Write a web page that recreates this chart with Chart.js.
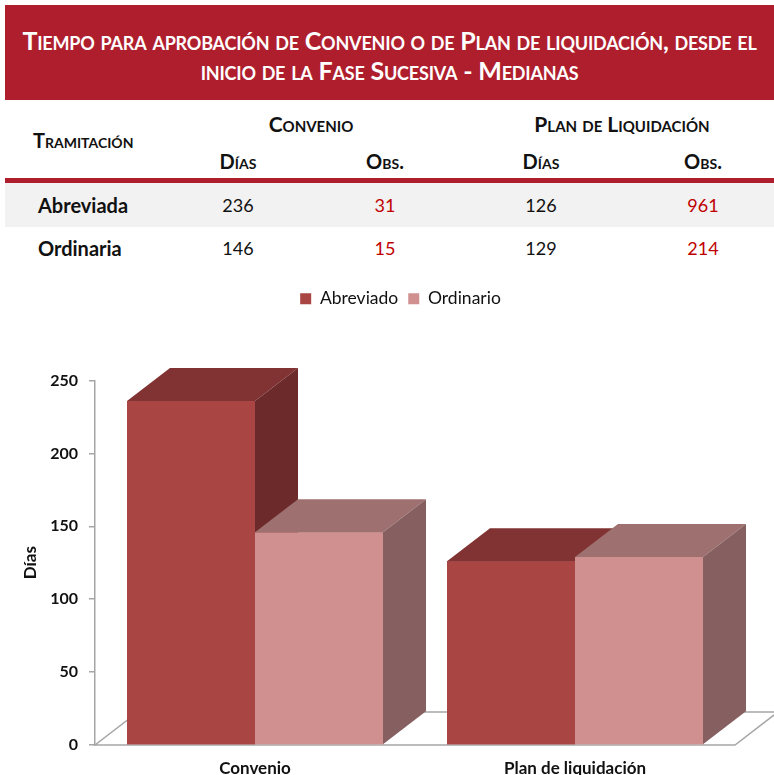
<!DOCTYPE html>
<html lang="es">
<head>
<meta charset="utf-8">
<title>Tiempo para aprobación de Convenio o de Plan de liquidación</title>
<script src="https://cdn.jsdelivr.net/npm/chart.js@4.4.1/dist/chart.umd.min.js"></script>
<style>
  html, body { margin: 0; padding: 0; background: #fff; }
  body { width: 774px; height: 775px; position: relative; overflow: hidden; font-family: Lato, 'Open Sans', sans-serif; color: #111; }
  .banner { position: absolute; left: 5px; top: 5px; width: 769px; height: 95px; background: #af1e2d; }
  .banner h1 { margin: 0; padding-top: 20px; color: #fff; font-size: 25px; letter-spacing: -0.2px; font-weight: bold; font-variant: small-caps; text-align: center; line-height: 30px; }
  .cell { position: absolute; width: 260px; margin-left: -130px; text-align: center; line-height: 26px; margin-top: -13px; white-space: nowrap; }
  .sc { font-variant: small-caps; font-weight: bold; font-size: 21px; }
  .lbl { position: absolute; left: 38px; font-weight: bold; font-size: 20px; line-height: 26px; margin-top: -13px; }
  .num { font-size: 18px; }
  .obs { color: #c00000; }
  .rule { position: absolute; left: 5px; top: 178px; width: 769px; height: 5px; background: #af1e2d; }
  .band { position: absolute; left: 5px; top: 183px; width: 769px; height: 44px; background: #f2f2f2; }
  .chart-box { position: absolute; left: 0; top: 280px; width: 774px; height: 495px; }
</style>
</head>
<body>
<div class="banner"><h1>Tiempo para aprobación de Convenio o de Plan de liquidación, desde el<br>inicio de la Fase Sucesiva - Medianas</h1></div>
<div id="table"></div>
<div class="chart-box"><canvas id="chart" width="774" height="495"></canvas></div>
<script>
// datos de la tabla
const tramitaciones = ['Abreviada', 'Ordinaria'];
const convenioDias = [236, 146];
const convenioObs = [31, 15];
const planDias = [126, 129];
const planObs = [961, 214];

// datos del gráfico
const categorias = ['Convenio', 'Plan de liquidación'];
const serieAbreviado = [236, 126];
const serieOrdinario = [146, 129];
const ticksY = [0, 50, 100, 150, 200, 250];

// profundidad 3D de las barras
const DX = 43, DY = -33;

function cell(html, cls, x, y, extra) {
  return `<div class="cell ${cls}" style="left:${x}px;top:${y}px;${extra || ''}">${html}</div>`;
}

function renderTable() {
  let html = '<div class="rule"></div><div class="band"></div>';
  html += `<div class="lbl sc" style="left:33px;top:140px;font-size:20px">Tramitación</div>`;
  html += cell('Convenio', 'sc', 311, 124);
  html += cell('Plan de Liquidación', 'sc', 622, 124);
  html += cell('Días', 'sc', 238, 161, 'font-size:20px');
  html += cell('Obs.', 'sc', 385, 161, 'font-size:20px');
  html += cell('Días', 'sc', 541, 161, 'font-size:20px');
  html += cell('Obs.', 'sc', 703, 161, 'font-size:20px');
  const rowsY = [205, 248];
  tramitaciones.forEach((t, i) => {
    const y = rowsY[i];
    html += `<div class="lbl" style="top:${y}px">${t}</div>`;
    html += cell(convenioDias[i], 'num', 238, y);
    html += cell(convenioObs[i], 'num obs', 385, y);
    html += cell(planDias[i], 'num', 541, y);
    html += cell(planObs[i], 'num obs', 703, y);
  });
  document.getElementById('table').innerHTML = html;
}

// espacio extra debajo de la leyenda y leyenda centrada sobre x=400
const legendSpacer = {
  id: 'legendSpacer',
  beforeInit(chart) {
    const fit = chart.legend.fit;
    chart.legend.fit = function () {
      fit.bind(chart.legend)();
      this.height += 63;
    };
  },
  afterLayout(chart) {
    chart.legend.left += 33;
    chart.legend.right += 33;
  }
};

function poly(ctx, pts, color) {
  ctx.beginPath();
  ctx.moveTo(pts[0][0], pts[0][1]);
  for (let i = 1; i < pts.length; i++) ctx.lineTo(pts[i][0], pts[i][1]);
  ctx.closePath();
  ctx.fillStyle = color;
  ctx.fill();
}

// suelo y caras 3D
const bars3d = {
  id: 'bars3d',
  beforeDatasetsDraw(chart) {
    const { ctx, chartArea: a } = chart;
    const y0 = chart.scales.y.getPixelForValue(0);
    ctx.save();
    ctx.beginPath();
    ctx.moveTo(a.left, y0);
    ctx.lineTo(a.right, y0);
    ctx.lineTo(a.right + DX, y0 + DY);
    ctx.lineTo(a.left + DX, y0 + DY);
    ctx.closePath();
    ctx.fillStyle = '#ffffff';
    ctx.fill();
    ctx.strokeStyle = '#a6a6a6';
    ctx.lineWidth = 1.5;
    ctx.stroke();
    ctx.restore();
  },
  afterDatasetsDraw(chart) {
    const ctx = chart.ctx;
    ctx.save();
    chart.data.labels.forEach((_, i) => {
      chart.data.datasets.forEach((ds, d) => {
        const bar = chart.getDatasetMeta(d).data[i];
        const { x, y, base, width } = bar.getProps(['x', 'y', 'base', 'width'], true);
        const l = x - width / 2, r = x + width / 2;
        poly(ctx, [[l, y], [r, y], [r, base], [l, base]], ds.backgroundColor);
        poly(ctx, [[l, y], [l + DX, y + DY], [r + DX, y + DY], [r, y]], ds.topColor);
        poly(ctx, [[r, y], [r + DX, y + DY], [r + DX, base + DY], [r, base]], ds.sideColor);
      });
    });
    ctx.restore();
  }
};

function createChart() {
  const ctx = document.getElementById('chart').getContext('2d');
  Chart.defaults.font.family = 'Lato, "Open Sans", sans-serif';
  Chart.defaults.color = '#111';
  return new Chart(ctx, {
    type: 'bar',
    data: {
      labels: categorias,
      datasets: [
        {
          label: 'Abreviado',
          data: serieAbreviado,
          backgroundColor: '#a94542',
          topColor: '#813232',
          sideColor: '#6d2a2a',
          borderWidth: 0
        },
        {
          label: 'Ordinario',
          data: serieOrdinario,
          backgroundColor: '#d19090',
          topColor: '#9e7070',
          sideColor: '#866060',
          borderWidth: 0
        }
      ]
    },
    options: {
      responsive: false,
      animation: false,
      layout: { padding: { left: 0, right: 39, top: 0, bottom: 0 } },
      plugins: {
        legend: {
          display: true,
          position: 'top',
          labels: { boxWidth: 11, boxHeight: 11, padding: 10, font: { size: 17.5 }, color: '#111' }
        },
        tooltip: { enabled: false }
      },
      datasets: { bar: { categoryPercentage: 0.8, barPercentage: 1.0 } },
      scales: {
        x: {
          grid: { display: false, drawTicks: false },
          border: { display: false },
          ticks: { padding: 13, font: { size: 17, weight: 'bold' }, color: '#111' },
          afterFit(scale) { scale.height = 30; }
        },
        y: {
          min: 0,
          max: 250,
          afterBuildTicks(scale) { scale.ticks = ticksY.map(v => ({ value: v })); },
          grid: { display: true, drawOnChartArea: false, drawTicks: true, tickLength: 6, color: '#a6a6a6', lineWidth: 1.5 },
          border: { display: true, color: '#a6a6a6', width: 1.5 },
          ticks: { padding: 11, font: { size: 16, weight: 'bold' }, color: '#111' },
          title: { display: true, text: 'Días', font: { size: 17, weight: 'bold' }, color: '#111', padding: { top: 20, bottom: 0 } },
          afterFit(scale) { scale.width = 95; }
        }
      }
    },
    plugins: [legendSpacer, bars3d]
  });
}

renderTable();
createChart();
</script>
</body>
</html>
